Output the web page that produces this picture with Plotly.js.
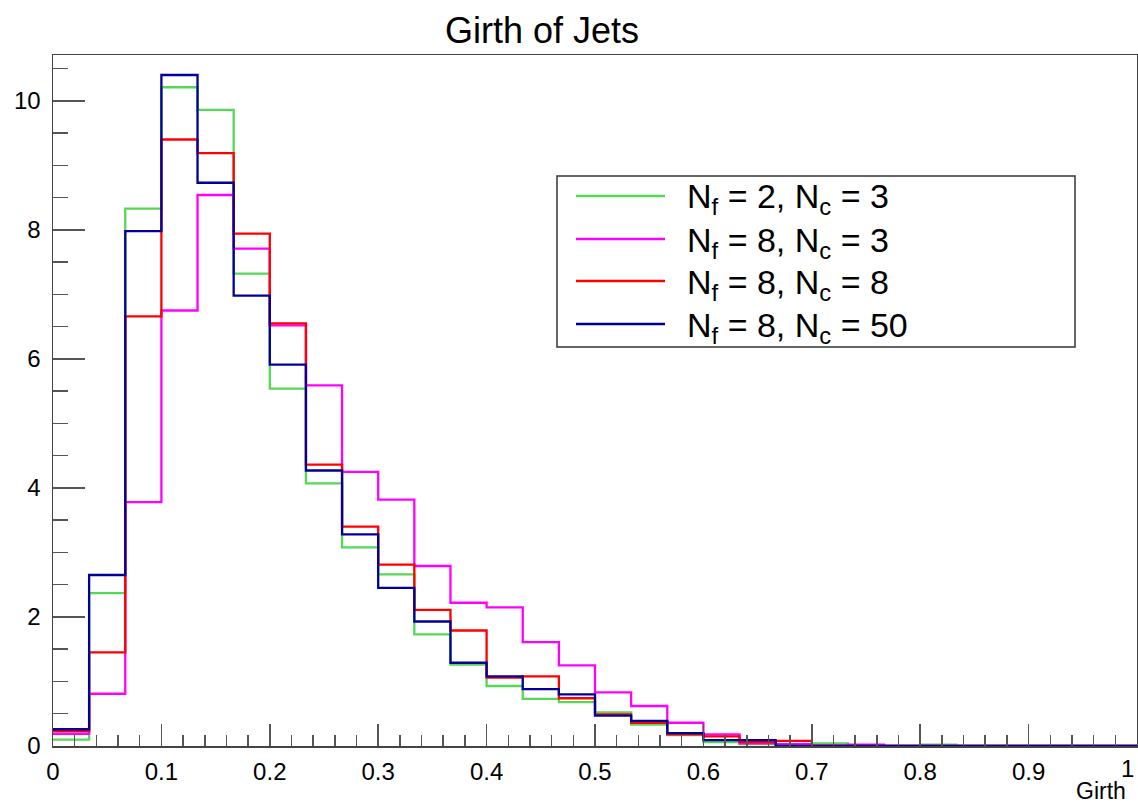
<!DOCTYPE html>
<html>
<head>
<meta charset="utf-8">
<script src="https://cdn.plot.ly/plotly-3.0.1.min.js"></script>
<style>
  html, body { margin: 0; padding: 0; background: #ffffff; }
  #chart { width: 1138px; height: 806px; }
</style>
</head>
<body>
<div id="chart"></div>
<script>
// ---- Data (30 bins, Girth from 0 to 1) ----
const nBins = 30;
const xMin = 0;
const xMax = 1;

const seriesNames = [
  "N<sub>f</sub> = 2, N<sub>c</sub> = 3",
  "N<sub>f</sub> = 8, N<sub>c</sub> = 3",
  "N<sub>f</sub> = 8, N<sub>c</sub> = 8",
  "N<sub>f</sub> = 8, N<sub>c</sub> = 50"
];

const nf2nc3 = [0.10, 2.37, 8.33, 10.21, 9.86, 7.32, 5.54, 4.07, 3.08, 2.66,
                1.73, 1.26, 0.93, 0.73, 0.68, 0.52, 0.33, 0.17, 0.06, 0.03,
                0.01, 0.04, 0.01, 0.00, 0.02, 0.00, 0.00, 0.00, 0.00, 0.00];

const nf8nc3 = [0.19, 0.81, 3.78, 6.75, 8.54, 7.71, 6.52, 5.59, 4.25, 3.82,
                2.79, 2.22, 2.15, 1.61, 1.25, 0.83, 0.62, 0.36, 0.18, 0.04,
                0.03, 0.01, 0.02, 0.00, 0.00, 0.00, 0.00, 0.00, 0.00, 0.00];

const nf8nc8 = [0.23, 1.45, 6.66, 9.40, 9.19, 7.94, 6.55, 4.36, 3.40, 2.81,
                2.11, 1.79, 1.06, 1.08, 0.74, 0.49, 0.36, 0.18, 0.15, 0.06,
                0.08, 0.00, 0.00, 0.00, 0.00, 0.00, 0.00, 0.00, 0.00, 0.00];

const nf8nc50 = [0.26, 2.65, 7.98, 10.40, 8.73, 6.98, 5.91, 4.27, 3.28, 2.45,
                 1.93, 1.29, 1.08, 0.88, 0.80, 0.47, 0.39, 0.20, 0.09, 0.09,
                 0.00, 0.00, 0.00, 0.00, 0.00, 0.00, 0.00, 0.00, 0.00, 0.00];

const seriesValues = [nf2nc3, nf8nc3, nf8nc8, nf8nc50];
const seriesColors = ["#55d855", "#ff00ff", "#ff0000", "#000099"];

const xTickVals = [0, 0.1, 0.2, 0.3, 0.4, 0.5, 0.6, 0.7, 0.8, 0.9];
const xTickText = ["0", "0.1", "0.2", "0.3", "0.4", "0.5", "0.6", "0.7", "0.8", "0.9"];
const xEndLabel = "1";
const yTickVals = [0, 2, 4, 6, 8, 10];
const yTickText = ["0", "2", "4", "6", "8", "10"];

// ---- Build step traces (bin edges) ----
const edges = [];
for (let i = 0; i <= nBins; i++) edges.push(xMin + (xMax - xMin) * i / nBins);

const traces = seriesValues.map((vals, i) => ({
  type: "scatter",
  mode: "lines",
  x: edges,
  y: vals.concat([vals[vals.length - 1]]),
  line: { shape: "hv", color: seriesColors[i], width: 2.3 },
  name: seriesNames[i],
  showlegend: false,
  hoverinfo: "skip"
}));

// ---- Layout geometry ----
const W = 1138, H = 806;
const mL = 53, mR = 1, mT = 55, mB = 60;
const plotW = W - mL - mR, plotH = H - mT - mB;
const px2x = px => (px - mL) / plotW;
const py2y = py => 1 - (py - mT) / plotH;
const fontFam = "Liberation Sans, Arial, sans-serif";

// Custom ROOT-style legend box
const legBox = { x0: 557, x1: 1075, y0: 176, y1: 347 };
const legRowsY = [196, 239, 281, 324];
const shapes = [{
  type: "rect", xref: "paper", yref: "paper",
  x0: px2x(legBox.x0), x1: px2x(legBox.x1),
  y0: py2y(legBox.y1), y1: py2y(legBox.y0),
  line: { color: "#333333", width: 1.5 }, fillcolor: "#ffffff", layer: "above"
}];
const annotations = [];
legRowsY.forEach((py, i) => {
  shapes.push({
    type: "line", xref: "paper", yref: "paper",
    x0: px2x(576), x1: px2x(665), y0: py2y(py), y1: py2y(py),
    line: { color: seriesColors[i], width: 2.3 }, layer: "above"
  });
  annotations.push({
    xref: "paper", yref: "paper",
    x: px2x(685), y: py2y(py + 3),
    xanchor: "left", yanchor: "middle",
    text: seriesNames[i], showarrow: false,
    font: { family: fontFam, size: 34, color: "#000000" }
  });
});
annotations.push({
  xref: "paper", yref: "paper",
  x: px2x(1128), y: py2y(791),
  xanchor: "right", yanchor: "middle",
  text: "Girth", showarrow: false,
  font: { family: fontFam, size: 23, color: "#000000" }
});
annotations.push({
  xref: "paper", yref: "paper",
  x: px2x(1136), y: py2y(768),
  xanchor: "right", yanchor: "middle",
  text: xEndLabel, showarrow: false,
  font: { family: fontFam, size: 24, color: "#000000" }
});

const axisCommon = {
  showgrid: false, zeroline: false,
  showline: true, mirror: true, linecolor: "#444444", linewidth: 1.5,
  ticks: "inside", tickcolor: "#555555", tickwidth: 1.5,
  tickfont: { family: fontFam, size: 24, color: "#000000" }
};

const layout = {
  width: W, height: H,
  paper_bgcolor: "#ffffff", plot_bgcolor: "#ffffff",
  margin: { l: mL, r: mR, t: mT, b: mB, pad: 0 },
  title: {
    text: "Girth of Jets",
    font: { family: fontFam, size: 36, color: "#000000" },
    x: 542 / W, xanchor: "center", xref: "container",
    y: 1 - 30 / H, yanchor: "middle", yref: "container"
  },
  xaxis: Object.assign({}, axisCommon, {
    range: [xMin, xMax],
    tickvals: xTickVals, ticktext: xTickText,
    ticklen: 22,
    minor: { dtick: 0.02, tick0: 0, ticks: "inside", ticklen: 11, tickcolor: "#555555", tickwidth: 1.5, showgrid: false },
    ticklabelstandoff: 4
  }),
  yaxis: Object.assign({}, axisCommon, {
    range: [0, 10.71],
    tickvals: yTickVals, ticktext: yTickText,
    ticklen: 32,
    minor: { dtick: 0.5, tick0: 0, ticks: "inside", ticklen: 15, tickcolor: "#555555", tickwidth: 1.5, showgrid: false },
    ticklabelstandoff: 6
  }),
  shapes: shapes,
  annotations: annotations,
  showlegend: false
};

Plotly.newPlot("chart", traces, layout, { displayModeBar: false, staticPlot: true });
</script>
</body>
</html>
